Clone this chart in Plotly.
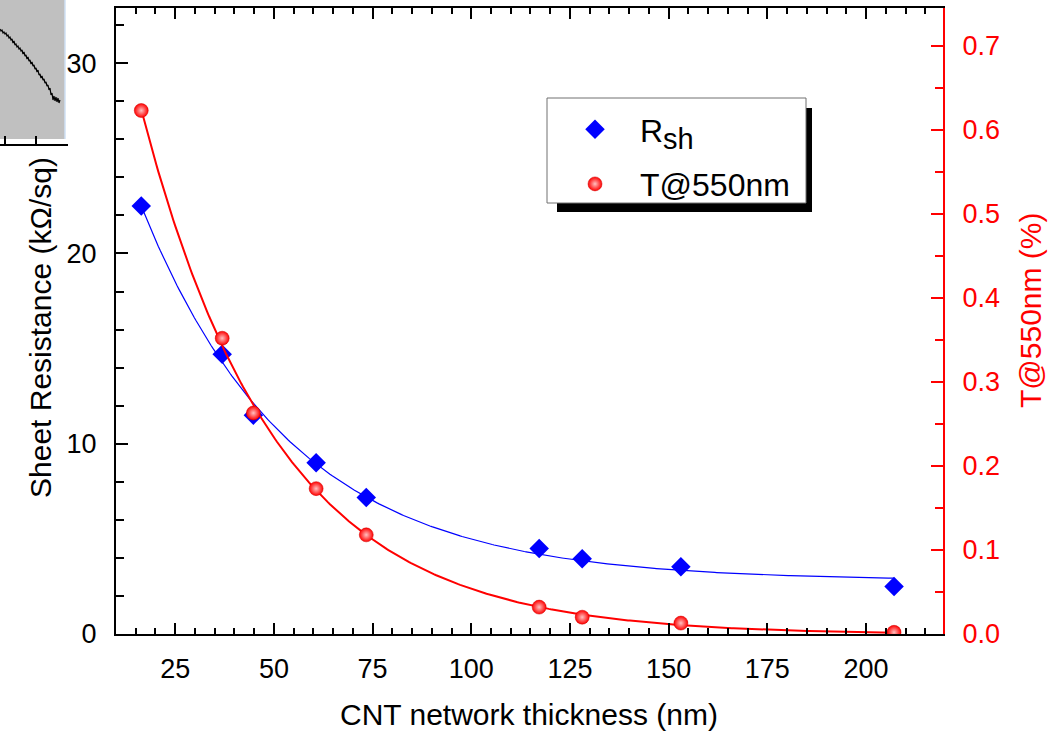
import numpy as np
import plotly.graph_objects as go

# ---------------- data ----------------
thickness_nm = [16.4, 36.9, 44.8, 60.7, 73.4, 117.2, 128.1, 153.1, 207.1]
sheet_res_kohm = [22.5, 14.7, 11.5, 9.0, 7.17, 4.49, 3.96, 3.54, 2.49]
trans_550 = [0.623, 0.352, 0.263, 0.173, 0.118, 0.032, 0.020, 0.013, 0.002]

# inset (partially cropped) curve, arbitrary units
inset_x = list(range(0, 61))
inset_depth = [29, 31, 30, 33, 32, 34, 33, 36, 35, 38, 37, 40, 39, 43, 41, 45, 44, 47, 46, 49,
               48, 51, 50, 54, 52, 56, 55, 59, 57, 61, 60, 64, 62, 66, 65, 69, 68, 72, 70, 75,
               74, 78, 76, 80, 79, 83, 82, 86, 85, 90, 88, 95, 93, 100, 96, 101, 97, 102, 98, 103, 100]
inset_y = [144 - d for d in inset_depth]

x_ticks = [25, 50, 75, 100, 125, 150, 175, 200]

W, H = 1048, 732
FONT = "Liberation Sans, Arial, sans-serif"
BLUE = "#0000ff"
RED = "#ff0000"


def px_x(p):
    return p / W


def px_y(p):
    return 1 - p / H


def expfit(x, y):
    x = np.asarray(x, float)
    y = np.asarray(y, float)
    best = None
    for t in np.linspace(5, 250, 4901):
        e = np.exp(-x / t)
        M = np.column_stack([np.ones_like(x), e])
        coef, *_ = np.linalg.lstsq(M, y, rcond=None)
        r = ((M @ coef - y) ** 2).sum()
        if best is None or r < best[0]:
            best = (r, coef[0], coef[1], t)
    _, y0, A, t = best
    xs = np.linspace(x.min(), x.max(), 400)
    return xs, y0 + A * np.exp(-xs / t)


bx, by = expfit(thickness_nm, sheet_res_kohm)
rx, ry = expfit(thickness_nm, trans_550)

fig = go.Figure()

# fit curves
fig.add_trace(go.Scatter(x=bx, y=by, mode="lines", line=dict(color=BLUE, width=1.2),
                         showlegend=False, hoverinfo="skip"))
fig.add_trace(go.Scatter(x=rx, y=ry, mode="lines", line=dict(color=RED, width=2),
                         showlegend=False, hoverinfo="skip", yaxis="y2"))

# data points
fig.add_trace(go.Scatter(x=thickness_nm, y=sheet_res_kohm, mode="markers",
                         name='R<sub><span style="font-size:29px">sh</span></sub>', legendgroup="a",
                         marker=dict(symbol="diamond", size=15, color=BLUE, line=dict(width=0))))
fig.add_trace(go.Scatter(x=thickness_nm, y=trans_550, mode="markers", yaxis="y2",
                         name="T@550nm", legendgroup="b",
                         marker=dict(symbol="circle", size=14, color=RED,
                                     gradient=dict(type="radial", color="#ffc0c0"),
                                     line=dict(width=0.5, color="#d00000"))))

# inset curve
fig.add_trace(go.Scatter(x=inset_x, y=inset_y, mode="lines", xaxis="x3", yaxis="y3",
                         line=dict(color="black", width=1.2), showlegend=False, hoverinfo="skip"))

tickfont = dict(family=FONT, size=27, color="black")

fig.update_layout(
    width=W, height=H,
    margin=dict(l=0, r=0, t=0, b=0, autoexpand=False),
    paper_bgcolor="white", plot_bgcolor="rgba(0,0,0,0)",
    font=dict(family=FONT, color="black"),
    xaxis=dict(
        domain=[px_x(116), px_x(943)], range=[10, 219.5], automargin=False,
        tickvals=x_ticks, ticks="inside", ticklen=11, tickwidth=2, tickcolor="black",
        showline=True, linecolor="black", linewidth=2, mirror="ticks",
        showgrid=False, zeroline=False, tickfont=tickfont, ticklabelstandoff=10,
        minor=dict(dtick=5, ticks="inside", ticklen=6, tickwidth=1.5, tickcolor="black", showgrid=False),
    ),
    yaxis=dict(
        domain=[px_y(634), px_y(8)], range=[0, 32.9], automargin=False,
        dtick=10, ticks="inside", ticklen=12, tickwidth=2, tickcolor="black",
        showline=True, linecolor="black", linewidth=2,
        showgrid=False, zeroline=False, tickfont=tickfont, ticklabelstandoff=12,
        minor=dict(dtick=2, ticks="inside", ticklen=8, tickwidth=1.5, tickcolor="black", showgrid=False),
    ),
    yaxis2=dict(
        overlaying="y", side="right", range=[0, 0.745], automargin=False,
        dtick=0.1, tickformat=".1f", ticks="inside", ticklen=12, tickwidth=2, tickcolor=RED,
        showline=True, linecolor=RED, linewidth=2,
        showgrid=False, zeroline=False, tickfont=dict(family=FONT, size=27, color=RED),
        ticklabelstandoff=12,
        minor=dict(dtick=0.05, ticks="inside", ticklen=8, tickwidth=1.5, tickcolor=RED, showgrid=False),
    ),
    xaxis3=dict(
        domain=[0, px_x(68)], range=[0, 68], anchor="y3", automargin=False,
        tickvals=[5, 36, 67], ticks="inside", ticklen=8, tickwidth=1.5, tickcolor="black",
        showticklabels=False, showline=True, linecolor="black", linewidth=1.5,
        showgrid=False, zeroline=False,
    ),
    yaxis3=dict(
        domain=[px_y(144), 1], range=[0, 144], anchor="x3", automargin=False,
        visible=False, showgrid=False, zeroline=False,
    ),
    legend=dict(
        x=px_x(550), y=px_y(102), xanchor="left", yanchor="top",
        bgcolor="rgba(0,0,0,0)", borderwidth=0,
        font=dict(family=FONT, size=32, color="black"),
        itemwidth=80, traceorder="grouped", tracegroupgap=10,
    ),
    shapes=[
        # inset background
        dict(type="rect", xref="x3", yref="y3", x0=0, x1=65, y0=5, y1=144,
             fillcolor="#c0c0c0", line=dict(width=0), layer="below"),
        dict(type="line", xref="x3", yref="y3", x0=65, x1=65, y0=5, y1=144,
             line=dict(color="#cfe0f5", width=1.5), layer="below"),
        # legend shadow and box
        dict(type="rect", xref="paper", yref="paper",
             x0=px_x(557), x1=px_x(812), y0=px_y(212), y1=px_y(108),
             fillcolor="black", line=dict(width=0), layer="above"),
        dict(type="rect", xref="paper", yref="paper",
             x0=px_x(547), x1=px_x(806), y0=px_y(203), y1=px_y(98),
             fillcolor="white", line=dict(color="#707070", width=1), layer="above"),
    ],
    annotations=[
        dict(text="CNT network thickness (nm)", xref="paper", yref="paper",
             x=px_x(529), y=px_y(714), xanchor="center", yanchor="middle", showarrow=False,
             font=dict(family=FONT, size=30, color="black")),
        dict(text="Sheet Resistance (kΩ/sq)", xref="paper", yref="paper",
             x=px_x(40), y=px_y(328), xanchor="center", yanchor="middle", showarrow=False,
             textangle=-90, font=dict(family=FONT, size=30, color="black")),
        dict(text="T@550nm (%)", xref="paper", yref="paper",
             x=px_x(1030), y=px_y(310), xanchor="center", yanchor="middle", showarrow=False,
             textangle=-90, font=dict(family=FONT, size=30, color=RED)),
    ],
)

fig.write_html("out.html")
